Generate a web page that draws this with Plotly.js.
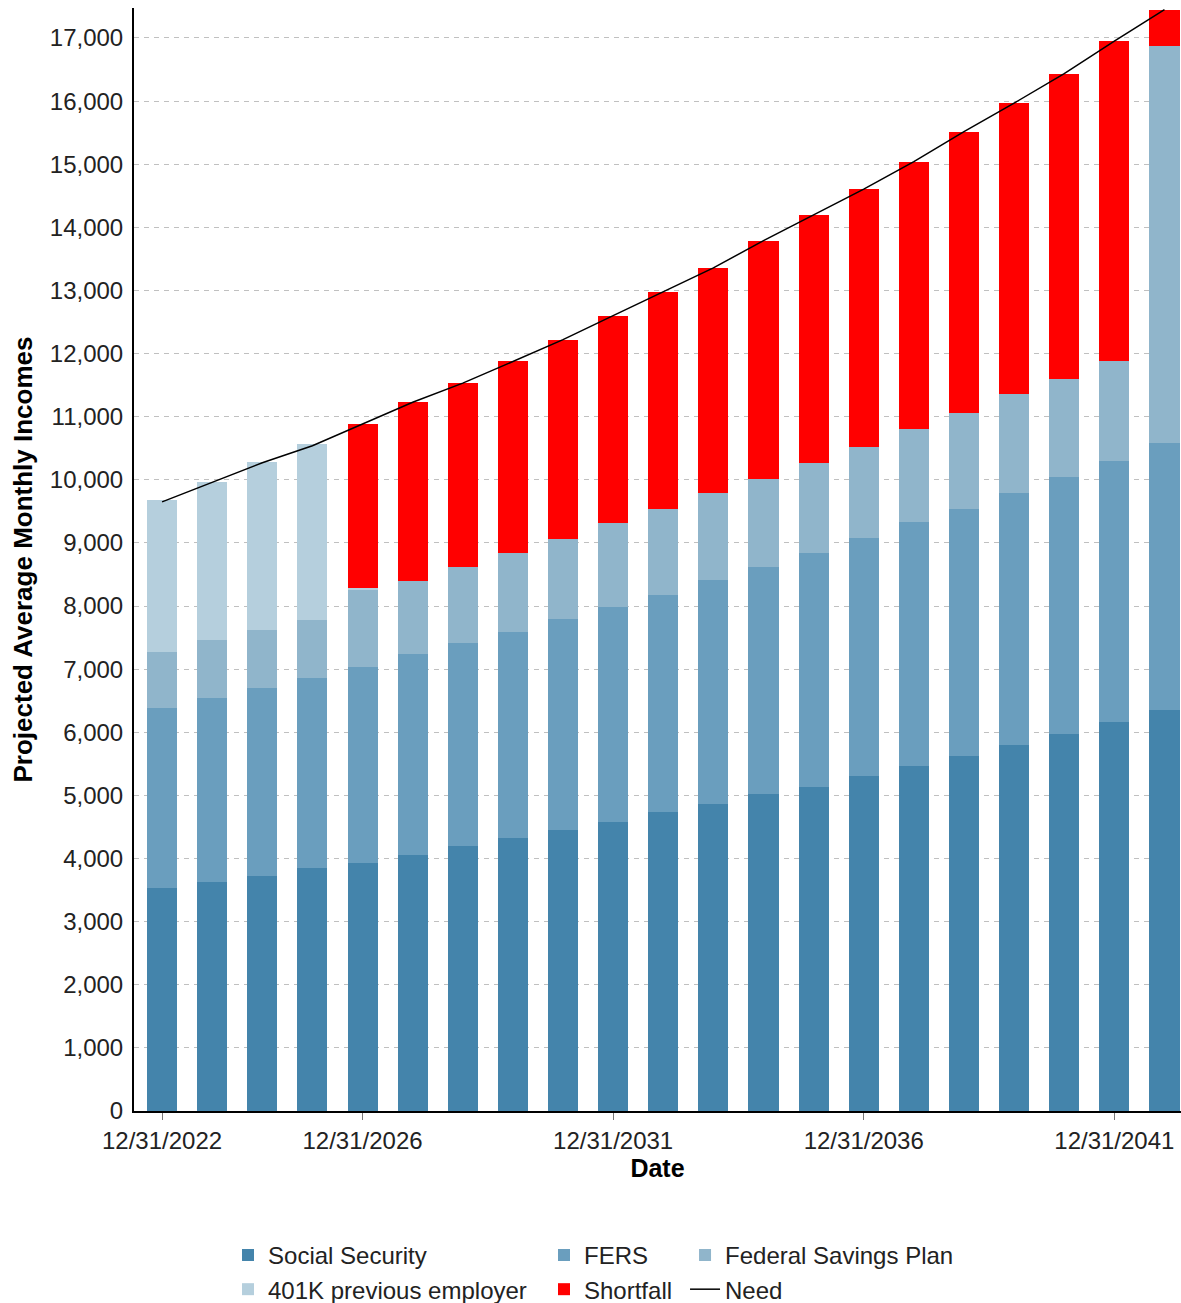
<!DOCTYPE html>
<html>
<head>
<meta charset="utf-8">
<script src="https://cdn.plot.ly/plotly-3.0.1.min.js"></script>
<style>
  html, body { margin: 0; padding: 0; background: #ffffff; }
  #chart { width: 1181px; height: 1303px; }
</style>
</head>
<body>
<div id="chart"></div>
<script>
// Year-end projection dates (one bar per year)
const dates = [
  '12/31/2022', '12/31/2023', '12/31/2024', '12/31/2025', '12/31/2026',
  '12/31/2027', '12/31/2028', '12/31/2029', '12/31/2030', '12/31/2031',
  '12/31/2032', '12/31/2033', '12/31/2034', '12/31/2035', '12/31/2036',
  '12/31/2037', '12/31/2038', '12/31/2039', '12/31/2040', '12/31/2041',
  '12/31/2042'
];
const tickDates = ['12/31/2022', '12/31/2026', '12/31/2031', '12/31/2036', '12/31/2041'];

// Projected monthly income by source
const socialSecurity = [3534, 3628, 3717, 3843, 3937, 4063, 4197, 4318, 4451, 4578,
  4735, 4862, 5019, 5140, 5306, 5468, 5621, 5806, 5968, 6161, 6347];
const fers = [2846, 2910, 2980, 3012, 3103, 3172, 3223, 3265, 3343, 3410,
  3446, 3543, 3598, 3705, 3767, 3863, 3919, 3992, 4080, 4137, 4242];
const federalSavingsPlan = [888, 924, 923, 924, 1214, 1168, 1197, 1257, 1270, 1324,
  1355, 1391, 1390, 1418, 1451, 1475, 1525, 1557, 1549, 1581, 6290];
const prevEmployer401k = [2412, 2503, 2658, 2783, 30, 0, 0, 0, 0, 0,
  0, 0, 0, 0, 0, 0, 0, 0, 0, 0, 0];
const shortfall = [0, 0, 0, 0, 2601, 2825, 2914, 3035, 3156, 3289,
  3446, 3561, 3783, 3931, 4081, 4234, 4451, 4613, 4838, 5073, 571];
// Monthly income need
const need = [9650, 9960, 10270, 10540, 10885, 11228, 11531, 11875, 12220, 12601,
  12982, 13357, 13790, 14194, 14605, 15040, 15516, 15968, 16435, 16952, 17450];

const FONT = 'Liberation Sans, Arial, sans-serif';

function barTrace(name, values, color, legendId) {
  return {
    type: 'bar',
    name: name,
    x: dates,
    y: values,
    marker: { color: color, line: { width: 0 } },
    legend: legendId,
    hoverinfo: 'x+y+name'
  };
}

const traces = [
  barTrace('Social Security', socialSecurity, '#4484ab', 'legend'),
  barTrace('FERS', fers, '#6a9ebe', 'legend2'),
  barTrace('Federal Savings Plan', federalSavingsPlan, '#90b5cb', 'legend3'),
  barTrace('401K previous employer', prevEmployer401k, '#b5cfdd', 'legend'),
  barTrace('Shortfall', shortfall, '#ff0000', 'legend2'),
  {
    type: 'scatter',
    mode: 'lines',
    name: 'Need',
    x: dates,
    y: need,
    line: { color: '#000000', width: 1.5 },
    legend: 'legend3'
  }
];

// Three legend columns placed under the plot
const legendBase = {
  orientation: 'v',
  traceorder: 'normal',
  xref: 'paper',
  yref: 'paper',
  yanchor: 'top',
  xanchor: 'left',
  y: -0.1105,
  bgcolor: 'rgba(0,0,0,0)',
  font: { family: FONT, size: 24, color: '#222222' },
  tracegroupgap: 0,
  itemclick: false
};

const layout = {
  width: 1181,
  height: 1303,
  paper_bgcolor: '#ffffff',
  plot_bgcolor: '#ffffff',
  barmode: 'stack',
  bargap: 0.4,
  margin: { l: 134, r: 0, t: 8, b: 192, autoexpand: false },
  font: { family: FONT, size: 24, color: '#222222' },
  xaxis: {
    type: 'category',
    range: [-0.56, 20.33],
    tickmode: 'array',
    tickvals: tickDates,
    ticktext: tickDates,
    ticks: 'outside',
    ticklen: 7,
    tickwidth: 1,
    tickcolor: '#777777',
    showline: true,
    linecolor: '#000000',
    linewidth: 2,
    showgrid: false,
    tickangle: 0,
    tickfont: { family: FONT, size: 24, color: '#222222' },
    title: { text: 'Date', font: { family: FONT, size: 25, color: '#000000', weight: 'bold' }, standoff: 2 }
  },
  yaxis: {
    range: [0, 17475],
    dtick: 1000,
    tickformat: ',d',
    ticks: '',
    ticklabelstandoff: 4,
    showline: true,
    linecolor: '#000000',
    linewidth: 2,
    showgrid: true,
    gridcolor: '#c0c0c0',
    gridwidth: 1,
    griddash: '5px,5px',
    zeroline: false,
    tickfont: { family: FONT, size: 24, color: '#222222' },
    title: { text: 'Projected Average Monthly Incomes', font: { family: FONT, size: 26, color: '#000000', weight: 'bold' }, standoff: 10 }
  },
  legend: Object.assign({}, legendBase, { x: 0.0898 }),
  legend2: Object.assign({}, legendBase, { x: 0.3916 }),
  legend3: Object.assign({}, legendBase, { x: 0.5263 }),
  showlegend: true
};

Plotly.newPlot('chart', traces, layout, { displayModeBar: false, staticPlot: true });
</script>
</body>
</html>
